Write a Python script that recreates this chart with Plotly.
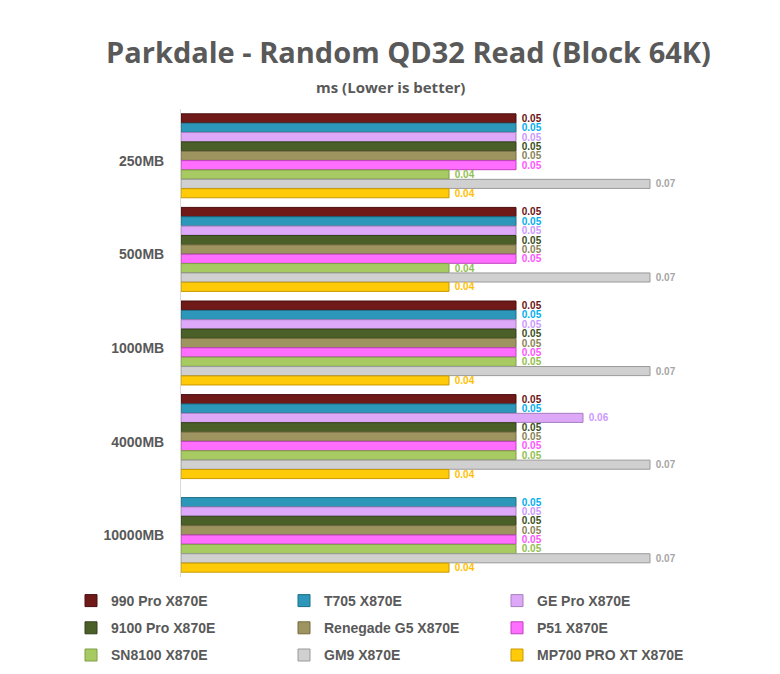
import plotly.graph_objects as go

categories = ["250MB", "500MB", "1000MB", "4000MB", "10000MB"]
series_names = ["990 Pro X870E", "T705 X870E", "GE Pro X870E", "9100 Pro X870E",
                "Renegade G5 X870E", "P51 X870E", "SN8100 X870E", "GM9 X870E",
                "MP700 PRO XT X870E"]
v_990 = [0.05, 0.05, 0.05, 0.05, None]
v_t705 = [0.05, 0.05, 0.05, 0.05, 0.05]
v_ge = [0.05, 0.05, 0.05, 0.06, 0.05]
v_9100 = [0.05, 0.05, 0.05, 0.05, 0.05]
v_ren = [0.05, 0.05, 0.05, 0.05, 0.05]
v_p51 = [0.05, 0.05, 0.05, 0.05, 0.05]
v_sn = [0.04, 0.04, 0.05, 0.05, 0.05]
v_gm9 = [0.07, 0.07, 0.07, 0.07, 0.07]
v_mp = [0.04, 0.04, 0.04, 0.04, 0.04]
values = [v_990, v_t705, v_ge, v_9100, v_ren, v_p51, v_sn, v_gm9, v_mp]

bar_colors = ["#701919", "#2C97B8", "#DDA8F8", "#4B5F28", "#9E9460",
              "#FF6EFF", "#A7CB62", "#D0D0D0", "#FFCA08"]
line_colors = ["#4A0E0E", "#1D6E87", "#A77FC0", "#33421A", "#746B42",
               "#C040C0", "#7E9E44", "#9A9A9A", "#C89A00"]
text_colors = ["#6B1212", "#00B0F0", "#CC99FF", "#3A4F1A", "#8A8458",
               "#FF55FF", "#92C050", "#A6A6A6", "#FFC000"]
# legend column assignment (3 columns)
legend_ids = ["legend", "legend2", "legend3", "legend", "legend2", "legend3",
              "legend", "legend2", "legend3"]

fig = go.Figure()
for name, vals, bc, lc, tc, lg in zip(series_names, values, bar_colors, line_colors,
                                      text_colors, legend_ids):
    fig.add_trace(go.Bar(
        y=categories, x=vals, name=name, orientation="h",
        marker=dict(color=bc, line=dict(color=lc, width=1)),
        texttemplate="\u00a0%{x:.2f}", textposition="outside",
        textfont=dict(family="Liberation Sans, Arial", size=10, color=tc, weight="bold"),
        constraintext="none", cliponaxis=False,
        legend=lg, legendgroup=name,
    ))

W, H = 780, 674
l, r, t, b = 181, 63, 109, 97
pw, ph = W - l - r, H - t - b


def px_x(x):
    return (x - l) / pw


def px_y(y):
    return (H - b - y) / ph


legend_common = dict(
    orientation="v", yanchor="top", xanchor="left", y=px_y(585),
    font=dict(family="Liberation Sans, Arial", size=14, color="#595959", weight="bold"),
    tracegroupgap=6, itemwidth=30, bgcolor="rgba(0,0,0,0)",
)

fig.update_layout(
    width=W, height=H,
    paper_bgcolor="white", plot_bgcolor="white",
    margin=dict(l=l, r=r, t=t, b=b, autoexpand=False),
    barmode="group", bargap=0.1, bargroupgap=0.03,
    showlegend=True,
    legend=dict(x=px_x(71), **legend_common),
    legend2=dict(x=px_x(284), **legend_common),
    legend3=dict(x=px_x(497), **legend_common),
    xaxis=dict(range=[0, 0.08], visible=False),
    yaxis=dict(autorange="reversed", showline=True, linecolor="#D9D9D9", linewidth=1,
               ticks="", ticklabelstandoff=13, ticklabelshift=-5,
               tickfont=dict(family="Liberation Sans, Arial", size=14, color="#595959",
                             weight="bold"),
               showgrid=False),
    annotations=[
        dict(text="Parkdale - Random QD32 Read (Block 64K)", x=px_x(408), y=px_y(52),
             xref="paper", yref="paper", showarrow=False,
             xanchor="center", yanchor="middle",
             font=dict(family="Open Sans", size=29, color="#595959", weight="bold")),
        dict(text="ms (Lower is better)", x=px_x(390), y=px_y(87),
             xref="paper", yref="paper", showarrow=False,
             xanchor="center", yanchor="middle",
             font=dict(family="Open Sans", size=15, color="#595959", weight="bold")),
    ],
)

fig.write_html("out.html")
